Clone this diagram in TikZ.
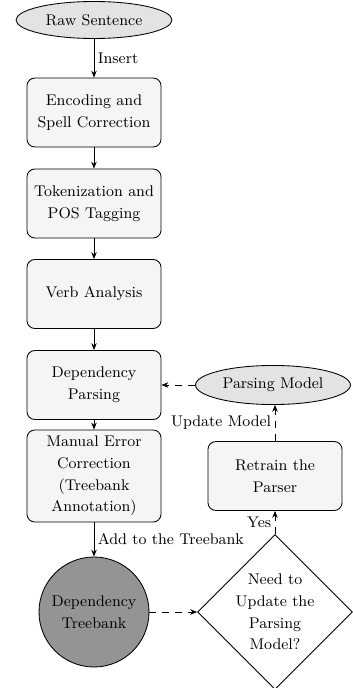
\documentclass[tikz,border=0pt]{standalone}
\usetikzlibrary{shapes.geometric,arrows.meta}
\tikzset{
  every node/.style={font=\fontsize{9}{12.6}\selectfont},
  procbox/.style={draw, line width=0.5pt, fill=gray!8, rounded corners=4.6pt, align=center,
    minimum width=77.9pt, minimum height=40.1pt, inner sep=1pt},
  ellip/.style={draw, line width=0.5pt, ellipse, fill=gray!22, minimum width=90.6pt, minimum height=21.5pt, inner sep=0pt},
  conn/.style={line width=0.5pt, -{Stealth[length=4pt,width=3.2pt]}},
  dconn/.style={conn, dash pattern=on 4pt off 3.5pt},
  lbl/.style={font=\fontsize{9}{12.6}\selectfont}
}
\begin{document}
\begin{tikzpicture}[x=0.581pt,y=-0.581pt]
\useasboundingbox (0,0) rectangle (352,688);
\node[ellip] (raw) at (94,20) {Raw Sentence};
\node[procbox] (enc) at (94,112.5) {Encoding and\\Spell Correction};
\node[procbox] (tok) at (94,203.5) {Tokenization and\\POS Tagging};
\node[procbox] (verb) at (94,294) {Verb Analysis};
\node[procbox] (dep) at (94,385) {Dependency\\Parsing};
\node[procbox, minimum height=53.5pt] (man) at (94,476) {Manual Error\\Correction\\(Treebank\\Annotation)};
\node[draw, line width=0.5pt, circle, fill=black!42, minimum size=63.9pt, inner sep=0pt, align=center] (tb) at (94,612) {Dependency\\Treebank};
\node[draw, line width=0.5pt, diamond, aspect=1, inner sep=0pt, minimum width=90pt, minimum height=88.5pt, align=center] (dia) at (275,612) {Need to\\Update the\\Parsing\\Model?};
\node[procbox] (ret) at (275,476) {Retrain the\\Parser};
\node[ellip, minimum width=90pt, minimum height=22.7pt] (pm) at (273,385) {Parsing Model};

\draw[conn] (raw) -- node[lbl, right, inner sep=2pt] {Insert} (enc);
\draw[conn] (enc) -- (tok);
\draw[conn] (tok) -- (verb);
\draw[conn] (verb) -- (dep);
\draw[conn] (dep) -- (man);
\draw[conn] (man) -- node[lbl, right, inner sep=2pt] {Add to the Treebank} (tb);
\draw[dconn] (tb) -- (dia);
\draw[dconn] (dia) -- node[lbl, left, inner sep=2pt] {Yes} (ret);
\draw[dconn] (ret.north) -- node[lbl, left, inner sep=2pt] {Update Model} (ret.north |- pm.south);
\draw[dconn] (pm) -- (dep);
\end{tikzpicture}
\end{document}
